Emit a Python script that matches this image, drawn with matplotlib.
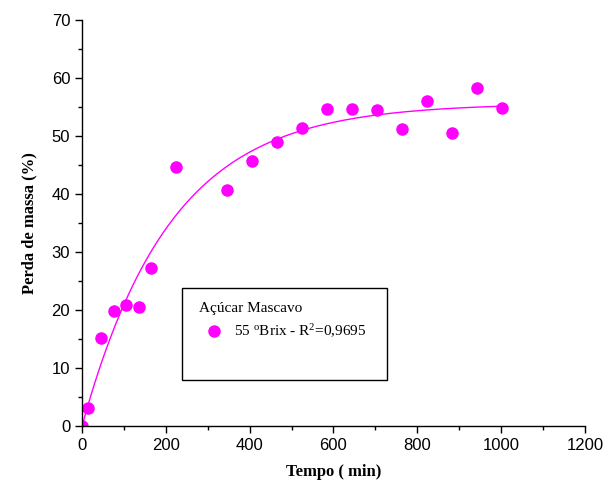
import matplotlib
matplotlib.use("Agg")
import matplotlib.pyplot as plt
import numpy as np
from matplotlib.patches import Rectangle
from matplotlib.ticker import MultipleLocator

plt.rcParams['mathtext.fontset'] = 'custom'
plt.rcParams['mathtext.rm'] = 'Liberation Serif'
plt.rcParams['mathtext.it'] = 'Liberation Serif'

# data
tempo = [0, 15, 45, 76, 105, 136, 165, 224, 346, 406, 465, 525,
         585, 644, 704, 764, 823, 883, 943, 1002]
perda = [0.0, 3.1, 15.2, 19.8, 20.9, 20.5, 27.2, 44.7, 40.7, 45.7, 49.0, 51.4,
         54.7, 54.7, 54.5, 51.2, 56.0, 50.5, 58.3, 54.8]

t = np.array(tempo, dtype=float)
y = np.array(perda)

# first order fit y = A(1 - exp(-k t)), grid over k
best = None
for k in np.linspace(0.001, 0.02, 4000):
    g = 1 - np.exp(-k * t)
    A = (g @ y) / (g @ g)
    err = np.sum((y - A * g) ** 2)
    if best is None or err < best[0]:
        best = (err, A, k)
_, A, k = best
tt = np.linspace(0, t.max(), 300)
yy = A * (1 - np.exp(-k * tt))

fig = plt.figure(figsize=(6.03, 4.86), dpi=100)
ax = fig.add_axes([0.136, 0.123, 0.834, 0.836])

ax.plot(tt, yy, color='#FF00FF', lw=1.0)
ax.plot(t, y, 'o', color='#FF00FF', ms=8,
        label=r'55 $^{\mathrm{o}}$Brix - R$^{\mathrm{2}}$=0,9695')

ax.set_xlim(0, 1200)
ax.set_ylim(0, 70)
ax.xaxis.set_major_locator(MultipleLocator(200))
ax.xaxis.set_minor_locator(MultipleLocator(100))
ax.yaxis.set_major_locator(MultipleLocator(10))
ax.yaxis.set_minor_locator(MultipleLocator(5))
ax.tick_params(which='both', direction='out', width=1.0)
ax.tick_params(which='major', length=5, labelsize=12)
ax.tick_params(which='minor', length=3)
for lab in ax.get_xticklabels() + ax.get_yticklabels():
    lab.set_family('Liberation Sans')

ax.spines['top'].set_visible(False)
ax.spines['right'].set_visible(False)
ax.spines['left'].set_linewidth(1.0)
ax.spines['bottom'].set_linewidth(1.0)

ax.set_xlabel('Tempo ( min)', family='Liberation Serif', fontweight='bold', fontsize=12, labelpad=8)
ax.set_ylabel('Perda de massa (%)', family='Liberation Serif', fontweight='bold', fontsize=12, labelpad=10)

ax.add_patch(Rectangle((0.199, 0.113), 0.407, 0.227, transform=ax.transAxes,
                       fill=False, edgecolor='black', lw=1.0, zorder=5))
leg = ax.legend(loc='upper left', bbox_to_anchor=(0.205, 0.34), frameon=False,
                title='Açúcar Mascavo', alignment='left', handletextpad=0.3,
                prop={'family': 'Liberation Serif', 'size': 11},
                title_fontproperties={'family': 'Liberation Serif', 'size': 11})

fig.savefig('out.png', dpi=100)
